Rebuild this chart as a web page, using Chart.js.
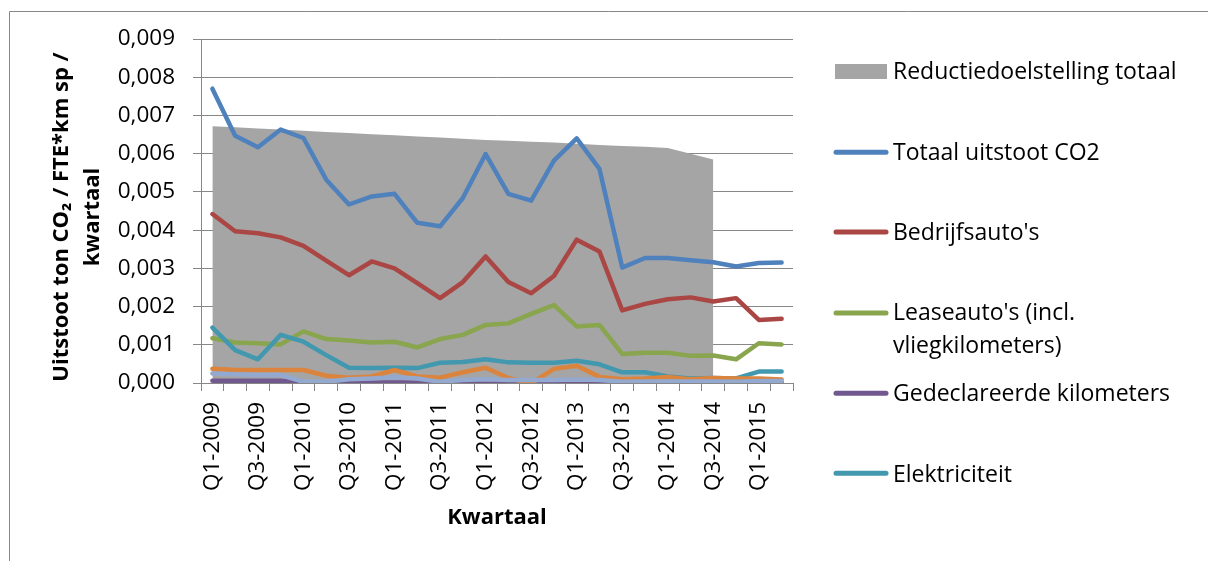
<!DOCTYPE html>
<html>
<head>
<meta charset="utf-8">
<script src="https://cdn.jsdelivr.net/npm/chart.js@4/dist/chart.umd.min.js"></script>
<style>
  html, body { margin: 0; padding: 0; background: #fff; }
  #wrap { position: relative; width: 1208px; height: 561px; }
  canvas { position: absolute; left: 0; top: 0; }
</style>
</head>
<body>
<div id="wrap"><canvas id="c" width="1208" height="561"></canvas></div>
<script>
// ---- data ----
const quarters = [
  'Q1-2009','Q2-2009','Q3-2009','Q4-2009',
  'Q1-2010','Q2-2010','Q3-2010','Q4-2010',
  'Q1-2011','Q2-2011','Q3-2011','Q4-2011',
  'Q1-2012','Q2-2012','Q3-2012','Q4-2012',
  'Q1-2013','Q2-2013','Q3-2013','Q4-2013',
  'Q1-2014','Q2-2014','Q3-2014','Q4-2014',
  'Q1-2015','Q2-2015'
];
const reductiedoelstelling = [0.00672,0.00669,0.00666,0.00663,0.00660,0.00657,0.00654,0.00651,0.00648,0.00645,0.00642,0.00639,0.00636,0.00634,0.00631,0.00629,0.00626,0.00623,0.00620,0.00618,0.00615,0.00600,0.00585,null,null,null];
const totaalUitstoot = [0.00770,0.00647,0.00617,0.00663,0.00641,0.00532,0.00467,0.00488,0.00495,0.00419,0.00410,0.00484,0.00599,0.00495,0.00477,0.00582,0.00640,0.00560,0.00302,0.00327,0.00327,0.00321,0.00316,0.00305,0.00314,0.00315];
const bedrijfsautos = [0.00442,0.00397,0.00392,0.00381,0.00359,0.00320,0.00282,0.00318,0.00300,0.00261,0.00222,0.00264,0.00331,0.00264,0.00235,0.00280,0.00375,0.00344,0.00190,0.00207,0.00219,0.00224,0.00213,0.00222,0.00165,0.00168];
const leaseautos = [0.00117,0.00106,0.00104,0.00101,0.00135,0.00115,0.00111,0.00106,0.00108,0.00093,0.00115,0.00126,0.00152,0.00156,0.00181,0.00204,0.00148,0.00152,0.00076,0.00079,0.00079,0.00071,0.00072,0.00062,0.00104,0.00101];
const gedeclareerd = [0.00006,0.00006,0.00006,0.00006,0.00001,0.00000,0.00001,0.00001,0.00001,0.00001,0.00001,0.00001,0.00001,0.00001,0.00001,0.00001,0.00001,0.00001,0.00000,0.00000,0.00000,0.00000,0.00000,0.00000,0.00001,0.00001];
const elektriciteit = [0.00145,0.00086,0.00062,0.00126,0.00108,0.00073,0.00040,0.00039,0.00040,0.00039,0.00053,0.00055,0.00062,0.00054,0.00053,0.00053,0.00058,0.00049,0.00028,0.00028,0.00017,0.00012,0.00013,0.00012,0.00030,0.00030];
const reeks7 = [0.00037,0.00034,0.00034,0.00034,0.00034,0.00019,0.00014,0.00017,0.00034,0.00017,0.00014,0.00028,0.00040,0.00013,-0.00001,0.00037,0.00045,0.00016,0.00010,0.00012,0.00016,0.00010,0.00013,0.00012,0.00012,0.00009];
const reeks8 = [0.00025,0.00023,0.00021,0.00021,0.00003,0.00003,0.00010,0.00012,0.00015,0.00012,0.00003,0.00008,0.00010,0.00008,0.00008,0.00008,0.00009,0.00008,0.00003,0.00004,0.00004,0.00004,0.00004,0.00003,0.00005,0.00005];
const seriesNames = ['Reductiedoelstelling totaal','Totaal uitstoot CO2',"Bedrijfsauto's","Leaseauto's (incl. vliegkilometers)",'Gedeclareerde kilometers','Elektriciteit','Reeks 7','Reeks 8'];
const legendLines = [['Reductiedoelstelling totaal'],['Totaal uitstoot CO2'],["Bedrijfsauto's"],["Leaseauto's (incl.",'vliegkilometers)'],['Gedeclareerde kilometers'],['Elektriciteit']];
const yTickLabels = ['0,000','0,001','0,002','0,003','0,004','0,005','0,006','0,007','0,008','0,009'];
const yAxisTitle = ['Uitstoot ton CO\u2082 / FTE*km sp /','kwartaal'];
const xAxisTitle = 'Kwartaal';

// ---- styles ----
const colors = ['#A5A5A5','#4F81BD','#AA4643','#89A54E','#71588F','#4198AF','#DB843D','#93A9CF'];
const FONT = '"Open Sans", "Noto Sans", sans-serif';
const GRID = '#878787';
Chart.defaults.font.family = FONT;
Chart.defaults.color = '#000';

const lineSeries = [totaalUitstoot, bedrijfsautos, leaseautos, gedeclareerd, elektriciteit, reeks7, reeks8];
const datasets = [{
  label: seriesNames[0],
  data: reductiedoelstelling,
  backgroundColor: colors[0],
  borderColor: colors[0],
  borderWidth: 0,
  pointRadius: 0,
  fill: 'origin',
  tension: 0,
  spanGaps: false,
  order: 100
}];
lineSeries.forEach((d, i) => {
  datasets.push({
    label: seriesNames[i + 1],
    data: d,
    borderColor: colors[i + 1],
    backgroundColor: colors[i + 1],
    borderWidth: 4.5,
    pointRadius: 0,
    fill: false,
    tension: 0,
    borderCapStyle: 'round',
    borderJoinStyle: 'round',
    order: 50 - i
  });
});

const framePlugin = {
  id: 'frame',
  beforeDraw(chart) {
    const c = chart.ctx;
    c.save();
    c.strokeStyle = GRID;
    c.lineWidth = 1;
    c.beginPath();
    c.moveTo(9.5, 561);
    c.lineTo(9.5, 11.5);
    c.lineTo(1208, 11.5);
    c.stroke();
    c.restore();
  }
};

// y-axis title drawn rotated, centred a little below the plot middle as in the reference
const yTitlePlugin = {
  id: 'yTitle',
  afterDraw(chart) {
    const c = chart.ctx;
    c.save();
    c.font = 'bold 22px ' + FONT;
    c.fillStyle = '#000';
    c.textAlign = 'center';
    c.textBaseline = 'middle';
    const cy = 217;
    [62, 93].forEach((x, j) => {
      c.save();
      c.translate(x, cy);
      c.rotate(-Math.PI / 2);
      c.fillText(yAxisTitle[j], 0, 0);
      c.restore();
    });
    c.restore();
  }
};

const legendPos = [
  {mark: 71.5, base: [79]},
  {mark: 152.3, base: [160]},
  {mark: 232, base: [240]},
  {mark: 313, base: [320, 352.7]},
  {mark: 393.3, base: [400.7]},
  {mark: 473.3, base: [481.7]}
];
const legendPlugin = {
  id: 'customLegend',
  afterDraw(chart) {
    const c = chart.ctx;
    c.save();
    c.font = '23px ' + FONT;
    c.textBaseline = 'alphabetic';
    c.textAlign = 'left';
    legendLines.forEach((lines, i) => {
      const p = legendPos[i];
      if (i === 0) {
        c.fillStyle = colors[0];
        c.fillRect(835, p.mark - 7.5, 52, 15);
      } else {
        c.strokeStyle = colors[i];
        c.lineWidth = 5;
        c.lineCap = 'round';
        c.beginPath();
        c.moveTo(836, p.mark);
        c.lineTo(886, p.mark);
        c.stroke();
      }
      c.fillStyle = '#000';
      lines.forEach((t, j) => c.fillText(t, 893, p.base[j]));
    });
    c.restore();
  }
};

new Chart(document.getElementById('c'), {
  type: 'line',
  data: { labels: quarters, datasets },
  plugins: [framePlugin, yTitlePlugin, legendPlugin],
  options: {
    responsive: false,
    animation: false,
    events: [],
    layout: { padding: { left: 0, top: 39, right: 415, bottom: 0 } },
    plugins: { legend: { display: false }, tooltip: { enabled: false } },
    scales: {
      x: {
        type: 'category',
        offset: true,
        grid: { offset: true, drawOnChartArea: false, drawTicks: true, tickLength: 8, color: GRID, lineWidth: 1 },
        border: { color: GRID, width: 1 },
        ticks: {
          autoSkip: false, minRotation: 90, maxRotation: 90, padding: 11,
          font: { size: 22.5, family: FONT }, color: '#000',
          callback: (v, i) => (i % 2 === 0 ? quarters[i] : '')
        },
        title: { display: true, text: xAxisTitle, font: { size: 22, weight: 'bold', family: FONT, lineHeight: '28px' }, padding: { top: 0, bottom: 29 }, color: '#000' },
        afterFit: s => { s.height = 178; }
      },
      y: {
        min: 0, max: 0.009,
        grid: { color: GRID, lineWidth: 1, tickLength: 8, drawTicks: true },
        border: { color: GRID, width: 1 },
        ticks: {
          stepSize: 0.001, padding: 18,
          font: { size: 22.5, family: FONT }, color: '#000',
          callback: (v) => yTickLabels[Math.round(v / 0.001)]
        },
        title: { display: false },
        afterFit: s => { s.width = 201; }
      }
    }
  }
});
</script>
</body>
</html>
